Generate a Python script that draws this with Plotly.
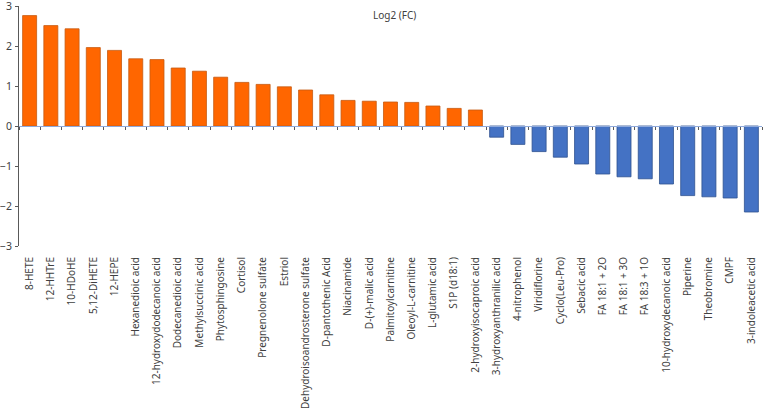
import plotly.graph_objects as go

# Log2 fold change per compound
compounds = [
    "8-HETE", "12-HHTrE", "10-HDoHE", "5,12-DiHETE", "12-HEPE",
    "Hexanedioic acid", "12-hydroxydodecanoic acid", "Dodecanedioic acid",
    "Methylsuccinic acid", "Phytosphingosine", "Cortisol",
    "Pregnenolone sulfate", "Estriol", "Dehydroisoandrosterone sulfate",
    "D-pantothenic Acid", "Niacinamide", "D-(+)-malic acid",
    "Palmitoylcarnitine", "Oleoyl-L-carnitine", "L-glutamic acid",
    "S1P (d18:1)", "2-hydroxyisocaproic acid", "3-hydroxyanthranilic acid",
    "4-nitrophenol", "Viridiflorine", "Cyclo(Leu-Pro)", "Sebacic acid",
    "FA 18:1 + 2O", "FA 18:1 + 3O", "FA 18:3 + 1O",
    "10-hydroxydecanoic acid", "Piperine", "Theobromine", "CMPF",
    "3-indoleacetic acid",
]
log2_fc = [
    2.76, 2.51, 2.43, 1.96, 1.89,
    1.68, 1.66, 1.45,
    1.37, 1.22, 1.09,
    1.04, 0.98, 0.90,
    0.78, 0.64, 0.62,
    0.60, 0.59, 0.50,
    0.44, 0.40, -0.28,
    -0.46, -0.64, -0.78, -0.95,
    -1.20, -1.27, -1.32,
    -1.45, -1.74, -1.77, -1.80,
    -2.15,
]

UP, UP_EDGE = "#FF6600", "#C55A11"
DOWN, DOWN_EDGE = "#4472C4", "#2F528F"
FONT = "Noto Sans"

fill = [UP if v > 0 else DOWN for v in log2_fc]
edge = [UP_EDGE if v > 0 else DOWN_EDGE for v in log2_fc]

fig = go.Figure()
fig.add_trace(go.Bar(
    x=compounds, y=log2_fc,
    marker=dict(color=fill, line=dict(color=edge, width=0.8)),
    showlegend=False,
))
# invisible companion trace so the zero-level axis (x2) gets drawn
fig.add_trace(go.Scatter(
    x=compounds, y=[0] * len(compounds), xaxis="x2",
    mode="none", hoverinfo="skip", showlegend=False,
))

fig.update_layout(
    width=768, height=415,
    margin=dict(l=19, r=6, t=6, b=169),
    paper_bgcolor="white", plot_bgcolor="white",
    bargap=0.34,
    font=dict(family=FONT, size=10, color="#404040"),
    xaxis=dict(
        type="category", range=[-0.5, len(compounds) - 0.5],
        showline=False, ticks="", tickangle=-90, automargin=False,
        ticklabelstandoff=8, ticklabeloverflow="allow",
        tickfont=dict(family=FONT, size=10, color="#404040"),
        showgrid=False, zeroline=False,
    ),
    xaxis2=dict(
        type="category", overlaying="x", anchor="free", position=0.5,
        range=[-0.5, len(compounds) - 0.5],
        showline=True, linecolor="#8FAADC", linewidth=1,
        ticks="outside", tickson="boundaries", ticklen=3, tickcolor="#595959",
        showticklabels=False, showgrid=False, zeroline=False,
    ),
    yaxis=dict(
        range=[-3, 3], dtick=1, showline=True, linecolor="#595959",
        ticks="outside", ticklen=3, tickcolor="#595959", automargin=False,
        ticklabelstandoff=1, ticklabeloverflow="allow",
        showgrid=False, zeroline=False,
        tickfont=dict(family=FONT, size=10.5, color="#404040"),
    ),
    annotations=[dict(
        text="Log2 (FC)", xref="paper", yref="paper", x=0.505, y=1.0,
        xanchor="center", yanchor="top", showarrow=False,
        font=dict(family=FONT, size=10, color="#404040"),
    )],
)

# drop the browser's default body margin so the figure sits at the corner
fig.write_html(
    "out.html",
    config={"displayModeBar": False},
    post_script="document.body.style.margin='0';",
)
